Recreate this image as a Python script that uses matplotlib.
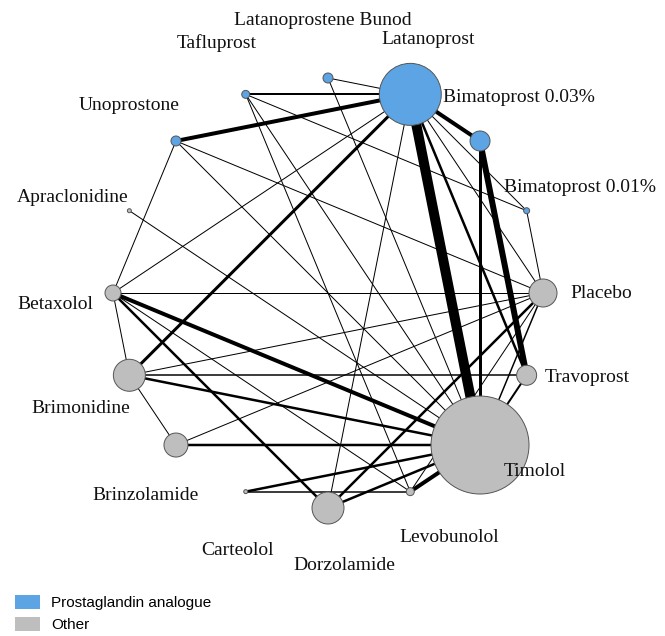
import numpy as np
import matplotlib
matplotlib.use("Agg")
from matplotlib import pyplot as plt
from matplotlib.patches import Circle, Patch

# treatments in circle order (counter-clockwise starting at the top)
treatments = ["Latanoprostene Bunod", "Tafluprost", "Unoprostone", "Apraclonidine",
              "Betaxolol", "Brimonidine", "Brinzolamide", "Carteolol", "Dorzolamide",
              "Levobunolol", "Timolol", "Travoprost", "Placebo", "Bimatoprost 0.01%",
              "Bimatoprost 0.03%", "Latanoprost"]
drug_class = ["PGA", "PGA", "PGA", "Other", "Other", "Other", "Other", "Other", "Other",
              "Other", "Other", "Other", "Other", "PGA", "PGA", "PGA"]
# node weight (area of the node)
node_weight = [25, 16, 25, 4, 64, 256, 144, 4, 256, 16, 2400, 100, 196, 9, 100, 961]

# direct comparisons: (treatment a, treatment b, number of studies)
comparisons = [
    ("Latanoprostene Bunod", "Latanoprost", 1),
    ("Latanoprostene Bunod", "Timolol", 1),
    ("Tafluprost", "Latanoprost", 2),
    ("Tafluprost", "Bimatoprost 0.01%", 1),
    ("Tafluprost", "Timolol", 1),
    ("Tafluprost", "Levobunolol", 1),
    ("Unoprostone", "Latanoprost", 4),
    ("Unoprostone", "Betaxolol", 1),
    ("Unoprostone", "Timolol", 1),
    ("Unoprostone", "Placebo", 1),
    ("Apraclonidine", "Timolol", 1),
    ("Betaxolol", "Latanoprost", 1),
    ("Betaxolol", "Brimonidine", 1),
    ("Betaxolol", "Placebo", 1),
    ("Betaxolol", "Timolol", 4),
    ("Betaxolol", "Dorzolamide", 2.5),
    ("Betaxolol", "Levobunolol", 1),
    ("Brimonidine", "Latanoprost", 3),
    ("Brimonidine", "Brinzolamide", 1),
    ("Brimonidine", "Placebo", 1),
    ("Brimonidine", "Travoprost", 1.5),
    ("Brimonidine", "Timolol", 2.5),
    ("Brinzolamide", "Placebo", 1),
    ("Brinzolamide", "Timolol", 2.5),
    ("Carteolol", "Levobunolol", 1.5),
    ("Carteolol", "Timolol", 2.5),
    ("Dorzolamide", "Latanoprost", 1),
    ("Dorzolamide", "Placebo", 2.5),
    ("Dorzolamide", "Timolol", 2.5),
    ("Levobunolol", "Timolol", 4),
    ("Levobunolol", "Placebo", 1),
    ("Timolol", "Latanoprost", 10),
    ("Timolol", "Bimatoprost 0.03%", 3),
    ("Timolol", "Travoprost", 2),
    ("Timolol", "Placebo", 1.5),
    ("Travoprost", "Latanoprost", 2.5),
    ("Travoprost", "Bimatoprost 0.03%", 6),
    ("Placebo", "Latanoprost", 1),
    ("Placebo", "Bimatoprost 0.01%", 1),
    ("Bimatoprost 0.01%", "Latanoprost", 1),
    ("Bimatoprost 0.03%", "Latanoprost", 4),
]

legend_labels = ["Prostaglandin analogue", "Other"]
colors = {"PGA": "#5ca4e4", "Other": "#bebebe"}

### layout (pixel units) ###
W, H = 665, 636
cx, cy, R, R_lab = 328, 293, 215, 273

fig = plt.figure(figsize=(W / 100, H / 100), dpi=100)
ax = fig.add_axes([0, 0, 1, 1])
ax.set_xlim(0, W)
ax.set_ylim(H, 0)
ax.set_aspect("equal")
ax.axis("off")

n = len(treatments)
theta = (90 + 360.0 / n * np.arange(n)) % 360
pos = {}
for t, a in zip(treatments, theta):
    pos[t] = (cx + R * np.cos(np.radians(a)), cy - R * np.sin(np.radians(a)))

# edges
for a, b, k in comparisons:
    (x1, y1), (x2, y2) = pos[a], pos[b]
    ax.plot([x1, x2], [y1, y2], color="black", lw=0.72 * k, solid_capstyle="butt", zorder=1)

# nodes
for t, c, w in zip(treatments, drug_class, node_weight):
    ax.add_patch(Circle(pos[t], np.sqrt(w), facecolor=colors[c], edgecolor="#555555",
                        lw=0.7, zorder=2))

# labels, slightly rotated around the circle
for t, a in zip(treatments, theta):
    la = np.radians(a * 1.013)
    ax.text(cx + R_lab * np.cos(la), cy - R_lab * np.sin(la), t, ha="center", va="center",
            fontsize=14, family="Liberation Serif", color="#111111", zorder=3)

handles = [Patch(facecolor=colors["PGA"]), Patch(facecolor=colors["Other"])]
fig.legend(handles, legend_labels, loc="lower left", bbox_to_anchor=(15 / W, 0.006),
           frameon=False, borderpad=0, borderaxespad=0, handlelength=1.63,
           handleheight=1.05, handletextpad=0.72, labelspacing=0.45,
           prop={"family": "Liberation Sans", "size": 11})

fig.savefig("out.png", dpi=100)
